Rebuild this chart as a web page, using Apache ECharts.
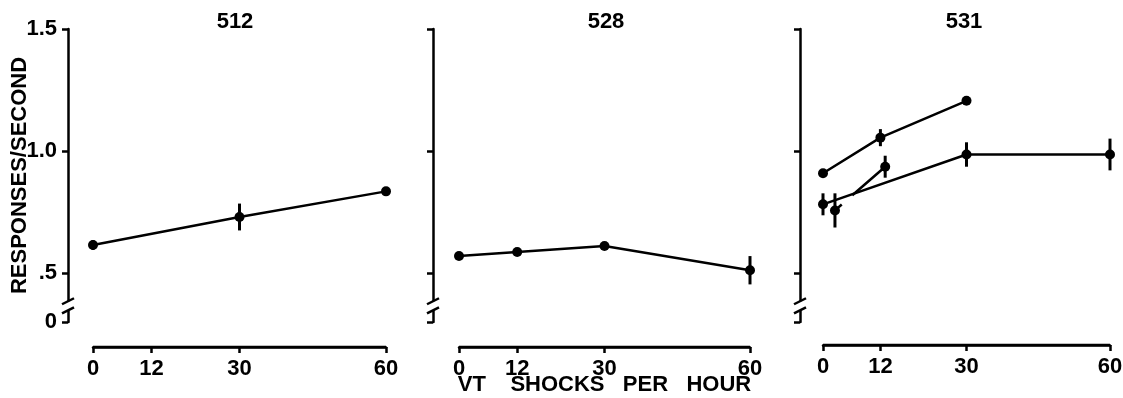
<!DOCTYPE html>
<html lang="en">
<head>
<meta charset="UTF-8">
<title>Responses per second vs VT shocks per hour</title>
<script src="https://cdn.jsdelivr.net/npm/echarts@6.0.0/dist/echarts.min.js"></script>
<style>
    html, body { margin: 0; padding: 0; background: #fff; }
    #main { width: 1123px; height: 398px; }
</style>
</head>
<body>
<div id="main"></div>
<script>
    // panel titles (subjects)
    var subjects = ['512', '528', '531'];
    var xTicks = [0, 12, 30, 60];
    // 0.3 is the bottom of the broken axis, it carries the "0" label
    var yTicks = [0.3, 0.5, 1.0, 1.5];

    // subject 512
    var s512X = [0, 30, 60];
    var s512Y = [0.615, 0.73, 0.835];
    var s512Err = [0.02, 0.055, 0];

    // subject 528
    var s528X = [0, 12, 30, 60];
    var s528Y = [0.57, 0.587, 0.611, 0.512];
    var s528Err = [0.015, 0, 0.01, 0.058];

    // subject 531, three determinations
    var s531aX = [0, 12, 30];
    var s531aY = [0.909, 1.055, 1.206];
    var s531aErr = [0.015, 0.035, 0];

    var s531bX = [0, 30, 60];
    var s531bY = [0.782, 0.986, 0.986];
    var s531bErr = [0.045, 0.05, 0.065];

    var s531cX = [2.5, 13];
    var s531cY = [0.757, 0.936];
    var s531cErr = [0.07, 0.045];

    var FONT = 'Liberation Sans';
    var FSIZE = 22;
    var INK = '#000';

    // layout of the three panels
    var gridLeft = [93, 459, 823];
    var gridWidth = [293, 291, 287];
    var yOffset = [25, 26, 23];
    var xOffset = [25, 25, 23];
    var titleX = [230, 601, 959];

    var chart = echarts.init(document.getElementById('main'));

    function txt() {
        return { fontFamily: FONT, fontWeight: 'bold', fontSize: FSIZE, color: INK };
    }

    function zip(xs, ys) {
        return xs.map(function (x, k) { return [x, ys[k]]; });
    }

    function lineSeries(gi, xs, ys, dash) {
        return {
            type: 'line',
            xAxisIndex: gi,
            yAxisIndex: gi,
            data: zip(xs, ys),
            symbol: 'circle',
            symbolSize: 10,
            z: 3,
            itemStyle: { color: INK },
            lineStyle: { color: INK, width: 2.5, type: dash ? [9, 14, 60, 1] : 'solid' }
        };
    }

    function errorBars(gi, xs, ys, errs) {
        var data = [];
        xs.forEach(function (x, k) {
            if (errs[k] > 0) data.push([x, ys[k] - errs[k], ys[k] + errs[k]]);
        });
        return {
            type: 'custom',
            xAxisIndex: gi,
            yAxisIndex: gi,
            data: data,
            z: 2,
            encode: { x: 0, y: [1, 2] },
            renderItem: function (params, api) {
                var lo = api.coord([api.value(0), api.value(1)]);
                var hi = api.coord([api.value(0), api.value(2)]);
                return {
                    type: 'line',
                    shape: { x1: lo[0], y1: lo[1], x2: hi[0], y2: hi[1] },
                    style: { stroke: INK, lineWidth: 3 }
                };
            }
        };
    }

    var grids = [], xAxes = [], yAxes = [], titles = [];
    for (var i = 0; i < 3; i++) {
        grids.push({ left: gridLeft[i], width: gridWidth[i], top: 29, bottom: 76, outerBoundsMode: 'none' });
        titles.push({ text: subjects[i], left: titleX[i], top: 6, textAlign: 'center', textStyle: txt() });
        xAxes.push({
            type: 'value', gridIndex: i, min: 0, max: 60,
            offset: xOffset[i],
            splitLine: { show: false },
            axisLine: { show: true, onZero: false, lineStyle: { color: INK, width: 2.5 } },
            axisTick: { show: true, customValues: xTicks, length: 6, lineStyle: { color: INK, width: 2.5 } },
            axisLabel: {
                customValues: xTicks, margin: 11, color: INK,
                fontFamily: FONT, fontWeight: 'bold', fontSize: FSIZE
            },
            name: i === 1 ? 'VT    SHOCKS   PER   HOUR' : '',
            nameLocation: 'middle',
            nameGap: 27,
            nameMoveOverlap: false,
            nameTextStyle: txt()
        });
        yAxes.push({
            type: 'value', gridIndex: i, min: 0.3, max: 1.5,
            offset: yOffset[i],
            splitLine: { show: false },
            axisLine: { show: true, onZero: false, lineStyle: { color: INK, width: 2.5 } },
            axisTick: { show: true, customValues: yTicks, length: 6, lineStyle: { color: INK, width: 2.5 } },
            axisLabel: {
                show: i === 0,
                customValues: yTicks, margin: 11, color: INK,
                fontFamily: FONT, fontWeight: 'bold', fontSize: FSIZE,
                formatter: function (v) {
                    if (v < 0.4) return '0';
                    if (Math.abs(v - 0.5) < 1e-6) return '.5';
                    return v.toFixed(1);
                }
            },
            name: i === 0 ? 'RESPONSES/SECOND' : '',
            nameLocation: 'middle',
            nameRotate: 90,
            nameGap: 37,
            nameMoveOverlap: false,
            nameTextStyle: txt()
        });
    }

    var series = [
        errorBars(0, s512X, s512Y, s512Err),
        lineSeries(0, s512X, s512Y),
        errorBars(1, s528X, s528Y, s528Err),
        lineSeries(1, s528X, s528Y),
        errorBars(2, s531aX, s531aY, s531aErr),
        lineSeries(2, s531aX, s531aY),
        errorBars(2, s531bX, s531bY, s531bErr),
        lineSeries(2, s531bX, s531bY),
        errorBars(2, s531cX, s531cY, s531cErr),
        lineSeries(2, s531cX, s531cY, true)
    ];

    chart.setOption({
        animation: false,
        title: titles,
        grid: grids,
        xAxis: xAxes,
        yAxis: yAxes,
        series: series
    });

    // break marks on the y axes, and the offset x axis baseline, placed through the axis scales
    var breakTop = 0.385, breakBottom = 0.348;
    var marks = [];
    for (var j = 0; j < 3; j++) {
        var xa = chart.convertToPixel({ xAxisIndex: j }, 0);
        var xb = chart.convertToPixel({ xAxisIndex: j }, 60);
        var ax = xa - yOffset[j];
        var y1 = chart.convertToPixel({ yAxisIndex: j }, breakTop);
        var y2 = chart.convertToPixel({ yAxisIndex: j }, breakBottom);
        var base = chart.convertToPixel({ yAxisIndex: j }, 0.3) + xOffset[j];
        marks.push({
            type: 'line', z: 99,
            shape: { x1: xa, y1: base, x2: xb, y2: base },
            style: { stroke: INK, lineWidth: 2.5 }
        });
        marks.push({
            type: 'rect', z: 100,
            shape: { x: ax - 3, y: y1, width: 6, height: y2 - y1 },
            style: { fill: '#fff' }
        });
        [y1, y2].forEach(function (y) {
            marks.push({
                type: 'line', z: 101,
                shape: { x1: ax - 6, y1: y + 3, x2: ax + 6, y2: y - 3 },
                style: { stroke: INK, lineWidth: 2.5 }
            });
        });
    }
    chart.setOption({ graphic: marks });
</script>
</body>
</html>
